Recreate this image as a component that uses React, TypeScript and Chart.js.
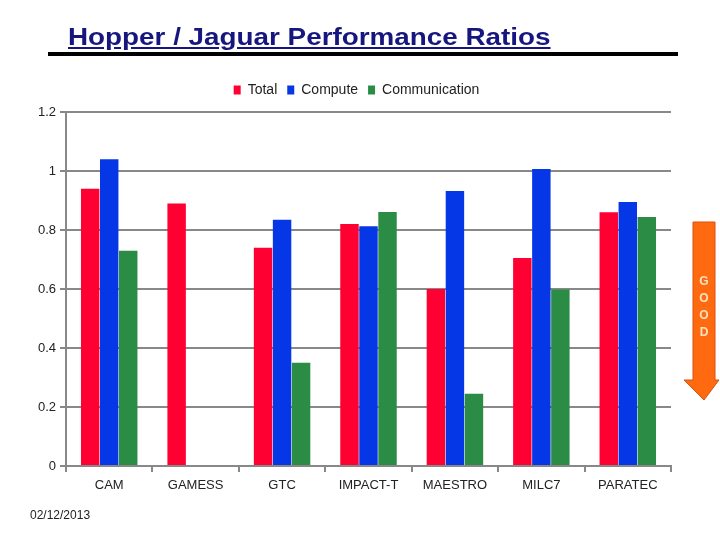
import React, { useEffect, useRef } from "react";
import { Chart, registerables } from "chart.js";

Chart.register(...registerables);

const categories = ["CAM", "GAMESS", "GTC", "IMPACT-T", "MAESTRO", "MILC7", "PARATEC"];
const totalValues = [0.94, 0.89, 0.74, 0.82, 0.60, 0.705, 0.86];
const computeValues = [1.04, null, 0.835, 0.813, 0.932, 1.007, 0.895];
const communicationValues = [0.73, null, 0.35, 0.861, 0.245, 0.598, 0.844];
const seriesNames = ["Total", "Compute", "Communication"];
const yTicks = [0, 0.2, 0.4, 0.6, 0.8, 1, 1.2];
const titleText = "Hopper / Jaguar Performance Ratios";
const dateText = "02/12/2013";
const arrowLetters = ["G", "O", "O", "D"];

const FONT = "'Liberation Sans', Arial, sans-serif";

const legendShift = {
  id: "legendShift",
  afterLayout(chart: any) {
    const lg = chart.legend;
    if (!lg) return;
    lg.left += 21;
    lg.right += 21;
    lg.top -= 5;
    lg.bottom -= 5;
  },
};

export default function App() {
  const canvasRef = useRef<HTMLCanvasElement | null>(null);

  useEffect(() => {
    document.body.style.margin = "0";
    const canvas = canvasRef.current;
    if (!canvas) return;
    const chart = new Chart(canvas, {
      type: "bar",
      data: {
        labels: categories,
        datasets: [
          { label: seriesNames[0], data: totalValues, backgroundColor: "#FF0033" },
          { label: seriesNames[1], data: computeValues, backgroundColor: "#0637E6" },
          { label: seriesNames[2], data: communicationValues, backgroundColor: "#2B8C46" },
        ],
      },
      plugins: [legendShift],
      options: {
        responsive: false,
        animation: false,
        events: [],
        layout: { padding: { top: 78, left: 0, right: 49, bottom: 44 } },
        datasets: { bar: { categoryPercentage: 0.66, barPercentage: 0.97 } },
        plugins: {
          title: { display: false },
          tooltip: { enabled: false },
          legend: {
            display: true,
            position: "top",
            labels: {
              boxWidth: 7,
              boxHeight: 9,
              padding: 10,
              color: "#222",
              font: { family: FONT, size: 14 },
            },
          },
        },
        scales: {
          x: {
            grid: {
              drawOnChartArea: false,
              drawTicks: true,
              tickLength: 6,
              color: "#888",
              lineWidth: 2,
            },
            border: { color: "#888", width: 2 },
            ticks: { color: "#222", font: { family: FONT, size: 13 }, padding: 6 },
            afterFit: (s: any) => {
              s.height = 30;
            },
          },
          y: {
            min: 0,
            max: 1.2,
            afterBuildTicks: (s: any) => {
              s.ticks = yTicks.map((v) => ({ value: v }));
            },
            grid: { color: "#888", lineWidth: 2, tickLength: 6 },
            border: { color: "#888", width: 2 },
            ticks: {
              color: "#222",
              font: { family: FONT, size: 13 },
              padding: 4,
              callback: (v: any) => String(Number(v)),
            },
            afterFit: (s: any) => {
              s.width = 66;
            },
          },
        },
      },
    });
    return () => chart.destroy();
  }, []);

  return (
    <div style={{ position: "relative", width: 720, height: 540, background: "#fff", overflow: "hidden" }}>
      <canvas ref={canvasRef} width={720} height={540} style={{ position: "absolute", left: 0, top: 0 }} />
      <div
        style={{
          position: "absolute",
          left: 68,
          top: 23,
          fontFamily: FONT,
          fontWeight: "bold",
          fontSize: 23,
          color: "#16167E",
          textDecoration: "underline",
          whiteSpace: "nowrap",
          lineHeight: "28px",
          transform: "scaleX(1.21)",
          transformOrigin: "left top",
        }}
      >
        {titleText}
      </div>
      <div style={{ position: "absolute", left: 48, top: 52, width: 630, height: 4, background: "#000" }} />
      <svg width={40} height={190} style={{ position: "absolute", left: 681, top: 216 }}>
        <polygon
          points="12,6 34,6 34,164 38,164 23,184 3,164 12,164"
          fill="#FF6A10"
          stroke="#D9500A"
          strokeWidth={1}
        />
        {arrowLetters.map((ch, i) => (
          <text
            key={i}
            x={23}
            y={69 + i * 17}
            textAnchor="middle"
            fontFamily={FONT}
            fontWeight="bold"
            fontSize={12}
            fill="#F8E3C0"
          >
            {ch}
          </text>
        ))}
      </svg>
      <div
        style={{
          position: "absolute",
          left: 30,
          top: 508,
          fontFamily: FONT,
          fontSize: 12,
          color: "#222",
          whiteSpace: "nowrap",
        }}
      >
        {dateText}
      </div>
    </div>
  );
}
